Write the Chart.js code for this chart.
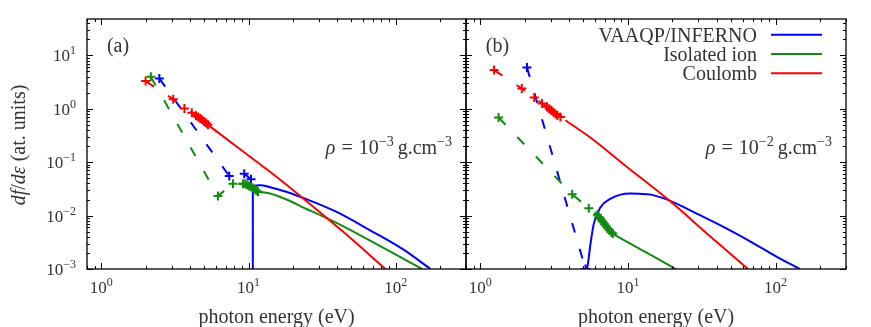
<!DOCTYPE html>
<html><head><meta charset="utf-8">
<script src="https://cdn.jsdelivr.net/npm/chart.js@4/dist/chart.umd.min.js"></script>
<style>
html,body{margin:0;padding:0;background:#fff;}
#wrap{position:relative;width:871px;height:327px;overflow:hidden;font-family:"Liberation Serif","DejaVu Serif",serif;color:#333;}
canvas{position:absolute;left:0;top:0;}
.t{position:absolute;white-space:nowrap;line-height:1;}
.t sup{font-size:12px;vertical-align:0;position:relative;top:-7px;}
.big{font-size:20px;}
.tick{font-size:17px;}
.big sup{font-size:14px;top:-8px;}
.sp{display:inline-block;width:6px;}
.th{display:inline-block;width:4px;}
</style></head><body>
<div id="wrap"><canvas id="ca" width="871" height="327"></canvas><canvas id="cb" width="871" height="327"></canvas></div>
<script>
// ---------- data ----------
// panel (a): rho = 1e-3 g/cm3
const aRedPtsX   = [2.0, 3.08, 3.67, 4.12, 4.4, 4.55, 4.7, 4.85, 5.0, 5.15, 5.3];
const aRedPtsY   = [3.3, 1.51, 1.01, 0.84, 0.74, 0.70, 0.66, 0.62, 0.58, 0.54, 0.50];
const aRedLineX  = [5.3, 9, 14, 24, 45, 85];
const aRedLineY  = [0.50, 0.166, 0.066, 0.0201, 0.0047, 0.001];
const aGreenPtsX = [2.17, 6.2, 7.84, 9.17, 9.5, 9.8, 10.1, 10.4, 10.7, 11.0, 11.3, 11.6];
const aGreenPtsY = [3.97, 0.0232, 0.0396, 0.0396, 0.039, 0.0375, 0.036, 0.0345, 0.033, 0.031, 0.0295, 0.028];
const aGreenLineX = [11.6, 14, 19, 24, 31, 40, 67, 113, 151];
const aGreenLineY = [0.028, 0.026, 0.019, 0.0138, 0.0101, 0.0072, 0.0034, 0.00155, 0.001];
const aBluePtsX  = [2.48, 7.4, 9.35, 10.4];
const aBluePtsY  = [3.7, 0.055, 0.061, 0.048];
const aBlueLineX = [10.7, 10.7, 12, 14, 18, 24, 40, 67, 113, 172];
const aBlueLineY = [0.001, 0.036, 0.037, 0.034, 0.028, 0.021, 0.0116, 0.0053, 0.0023, 0.001];
// panel (b): rho = 1e-2 g/cm3
const bRedPtsX   = [1.24, 1.91, 2.32, 2.62, 2.83, 2.93, 3.03, 3.13, 3.23, 3.33, 3.49];
const bRedPtsY   = [5.3, 2.4, 1.63, 1.26, 1.09, 1.0, 0.93, 0.86, 0.8, 0.75, 0.705];
const bRedLineX  = [3.77, 5.88, 8.93, 19, 35, 65];
const bRedLineY  = [0.61, 0.258, 0.101, 0.0193, 0.0044, 0.001];
const bGreenPtsX = [1.33, 4.19, 5.43, 6.2, 6.36, 6.5, 6.65, 6.8, 6.95, 7.1, 7.3, 7.5, 7.7, 7.9];
const bGreenPtsY = [0.687, 0.025, 0.0138, 0.0104, 0.0094, 0.0088, 0.0081, 0.0075, 0.0069, 0.0063, 0.0058, 0.0053, 0.0049, 0.0046];
const bGreenLineX = [7.9, 8.25, 13.2, 21.1];
const bGreenLineY = [0.0046, 0.00426, 0.00207, 0.001];
const bBluePtsX  = [2.07, 5.16];
const bBluePtsY  = [5.96, 0.001];
const bBlueLineX = [5.16, 5.3, 5.58, 5.87, 6.53, 7.64, 8.93, 10.4, 12, 14.3, 19, 30, 45, 70, 100, 145.6];
const bBlueLineY = [0.001, 0.00108, 0.003, 0.007, 0.0144, 0.0207, 0.0247, 0.0258, 0.0256, 0.0247, 0.0193, 0.0105, 0.006, 0.0031, 0.00175, 0.001];
// axes / labels
const xTickVals = [1, 10, 100];
const xTickExps = ['0', '1', '2'];
const yTickVals = [0.001, 0.01, 0.1, 1, 10];
const yTickExps = ['\u22123', '\u22122', '\u22121', '0', '1'];
const seriesNames = ['VAAQP/INFERNO', 'Isolated ion', 'Coulomb'];
const xMin = 0.8, xMax = 300, yMin = 0.001, yMax = 48;

// ---------- styles ----------
const BLUE = '#0000ff', GREEN = '#128a12', RED = '#ff0000';
const zip = (xs, ys) => xs.map((v, i) => ({x: v, y: ys[i]}));
function ptsSet(xs, ys, c){
  return {data: zip(xs, ys), showLine: true, borderColor: c, borderWidth: 2, borderDash: [10, 17],
    pointStyle: 'cross', pointRadius: 4.5, pointBorderWidth: 2, pointBorderColor: c, pointBackgroundColor: c, tension: 0};
}
function lineSet(xs, ys, c){
  return {data: zip(xs, ys), showLine: true, borderColor: c, borderWidth: 2, pointRadius: 0,
    cubicInterpolationMode: 'monotone'};
}

function minorVals(lo, hi){
  const out = [];
  for (let e = -4; e <= 3; e++) for (let k = 1; k <= 9; k++) {
    const v = k * Math.pow(10, e);
    if (v >= lo * 0.9999 && v <= hi * 1.0001) out.push(v);
  }
  return out;
}

const framePlugin = {
  id: 'frame',
  afterDatasetsDraw(chart){
    const {ctx, chartArea: {left, right, top, bottom}, scales: {x, y}} = chart;
    ctx.save();
    ctx.strokeStyle = '#000';
    ctx.lineWidth = 1;
    ctx.beginPath();
    for (const v of minorVals(xMin, xMax)) {
      const major = Math.abs(Math.log10(v) - Math.round(Math.log10(v))) < 1e-9;
      const L = major ? 6 : 3;
      const px = Math.round(x.getPixelForValue(v)) + 0.5;
      ctx.moveTo(px, bottom); ctx.lineTo(px, bottom - L);
      ctx.moveTo(px, top); ctx.lineTo(px, top + L);
    }
    for (const v of minorVals(yMin, yMax)) {
      const major = Math.abs(Math.log10(v) - Math.round(Math.log10(v))) < 1e-9;
      const L = major ? 6 : 3;
      const py = Math.round(y.getPixelForValue(v)) + 0.5;
      ctx.moveTo(left, py); ctx.lineTo(left + L, py);
      ctx.moveTo(right, py); ctx.lineTo(right - L, py);
    }
    ctx.stroke();
    ctx.lineWidth = 1.3;
    ctx.strokeRect(left, top, right - left, bottom - top);
    if (chart.canvas.id === 'cb') {
      const cols = [BLUE, GREEN, RED];
      ctx.lineWidth = 2;
      cols.forEach((c, i) => {
        ctx.strokeStyle = c;
        ctx.beginPath();
        const yy = 34.7 + i * 19.3;
        ctx.moveTo(771, yy); ctx.lineTo(822, yy);
        ctx.stroke();
      });
    }
    ctx.restore();
  }
};

function makeChart(id, padL, padR, sets){
  return new Chart(document.getElementById(id), {
    type: 'scatter',
    data: {datasets: sets},
    options: {
      responsive: false, animation: false, devicePixelRatio: 1, events: [],
      layout: {padding: {left: padL, right: padR, top: 19, bottom: 58}},
      plugins: {legend: {display: false}, tooltip: {enabled: false}},
      scales: {
        x: {type: 'logarithmic', min: xMin, max: xMax, display: false},
        y: {type: 'logarithmic', min: yMin, max: yMax, display: false}
      }
    },
    plugins: [framePlugin]
  });
}

const chartA = makeChart('ca', 87, 405, [
  ptsSet(aRedPtsX, aRedPtsY, RED), lineSet(aRedLineX, aRedLineY, RED),
  ptsSet(aGreenPtsX, aGreenPtsY, GREEN), lineSet(aGreenLineX, aGreenLineY, GREEN),
  ptsSet(aBluePtsX, aBluePtsY, BLUE), lineSet(aBlueLineX, aBlueLineY, BLUE)
]);
const chartB = makeChart('cb', 466, 25, [
  ptsSet(bRedPtsX, bRedPtsY, RED), lineSet(bRedLineX, bRedLineY, RED),
  ptsSet(bGreenPtsX, bGreenPtsY, GREEN), lineSet(bGreenLineX, bGreenLineY, GREEN),
  ptsSet(bBluePtsX, bBluePtsY, BLUE), lineSet(bBlueLineX, bBlueLineY, BLUE)
]);

// ---------- text ----------
const wrap = document.getElementById('wrap');
function txt(html, cls, left, top, tf){
  const d = document.createElement('div');
  d.className = 't ' + cls;
  d.innerHTML = html;
  d.style.left = left + 'px';
  d.style.top = top + 'px';
  if (tf) d.style.transform = tf;
  wrap.appendChild(d);
  return d;
}
[chartA, chartB].forEach(ch => {
  const xs = ch.scales.x, ca = ch.chartArea;
  xTickVals.forEach((v, i) => txt('10<sup>' + xTickExps[i] + '</sup>', 'tick', xs.getPixelForValue(v), 286.7, 'translate(-50%,-50%)'));
  txt('photon energy (eV)', 'big', (ca.left + ca.right) / 2, 316, 'translate(-50%,-50%)');
});
yTickVals.forEach((v, i) => txt('10<sup>' + yTickExps[i] + '</sup>', 'tick', 76, chartA.scales.y.getPixelForValue(v), 'translate(-100%,-50%)'));
txt('<i>df</i>/<i>d\u03b5</i> (at. units)', 'big', 18, 145, 'translate(-50%,-50%) rotate(-90deg)');
txt('(a)', 'big', 118, 45, 'translate(-50%,-50%)');
txt('(b)', 'big', 497.5, 45, 'translate(-50%,-50%)');
txt('<i>\u03c1</i><span class="sp"></span>=<span class="sp"></span>10<sup>\u22123</sup><span class="th"></span>g.cm<sup>\u22123</sup>', 'big', 452, 147, 'translate(-100%,-50%)');
txt('<i>\u03c1</i><span class="sp"></span>=<span class="sp"></span>10<sup>\u22122</sup><span class="th"></span>g.cm<sup>\u22123</sup>', 'big', 832, 147, 'translate(-100%,-50%)');
seriesNames.forEach((s, i) => txt(s, 'big', 757, 34.7 + i * 19.3, 'translate(-100%,-50%)'));
</script></body></html>
